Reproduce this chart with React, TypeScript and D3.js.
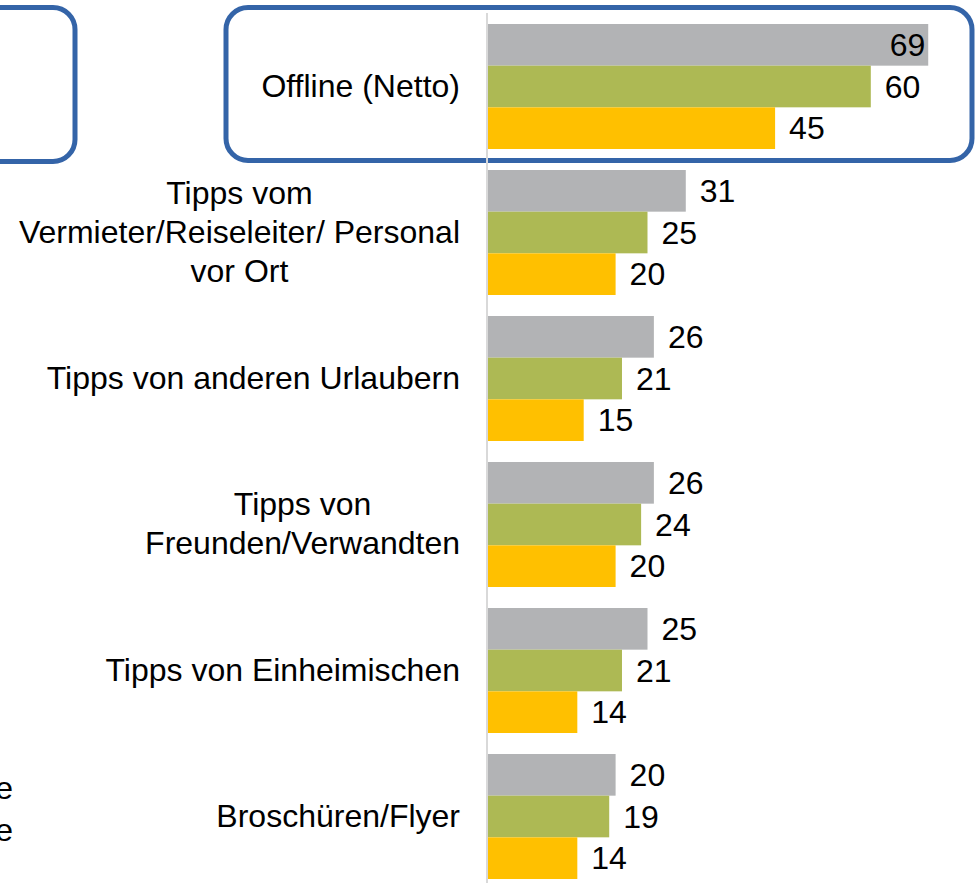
import React, { useEffect, useRef } from "react";
import * as d3 from "d3";

const categories = [
  "Offline (Netto)",
  "Tipps vom\nVermieter/Reiseleiter/ Personal\nvor Ort",
  "Tipps von anderen Urlaubern",
  "Tipps von\nFreunden/Verwandten",
  "Tipps von Einheimischen",
  "Broschüren/Flyer",
];
const seriesNames = ["A", "B", "C"];
const seriesA = [69, 31, 26, 26, 25, 20];
const seriesB = [60, 25, 21, 24, 21, 19];
const seriesC = [45, 20, 15, 20, 14, 14];
const seriesColors = ["#b2b3b5", "#adb954", "#ffc000"];
const cutLegendTexts = ["e", "e"];

const W = 977;
const H = 883;
const FONT = "'Liberation Sans', Arial, sans-serif";
const FS = 32;

export default function App() {
  const ref = useRef<SVGSVGElement>(null);
  useEffect(() => {
    document.body.style.margin = "0";
    const svg = d3.select(ref.current);
    svg.selectAll("*").remove();
    const values = [seriesA, seriesB, seriesC];
    const x = d3.scaleLinear().domain([0, 100]).range([488, 488 + 638]);
    const p = 21 / 146;
    const y = d3
      .scaleBand<string>()
      .domain(categories)
      .range([13.5, 13.5 + 146 * categories.length])
      .paddingInner(p)
      .paddingOuter(p / 2);
    const ys = d3.scaleBand<string>().domain(seriesNames).range([0, y.bandwidth()]);

    // boxes
    svg.append("rect").attr("x", -100).attr("y", 7.5).attr("width", 175).attr("height", 154)
      .attr("rx", 22).attr("fill", "none").attr("stroke", "#3464a8").attr("stroke-width", 5);
    svg.append("rect").attr("x", 226).attr("y", 7.5).attr("width", 746).attr("height", 153)
      .attr("rx", 22).attr("fill", "none").attr("stroke", "#3464a8").attr("stroke-width", 5);

    // axis line
    svg.append("line").attr("x1", 487).attr("x2", 487).attr("y1", 13).attr("y2", H)
      .attr("stroke", "#d9d9d9").attr("stroke-width", 2);

    // bars
    categories.forEach((c, i) => {
      seriesNames.forEach((s, j) => {
        const v = values[j][i];
        const by = (y(c) as number) + (ys(s) as number);
        svg.append("rect").attr("x", x(0)).attr("y", by).attr("width", x(v) - x(0))
          .attr("height", ys.bandwidth()).attr("fill", seriesColors[j]);
        const t = svg.append("text").attr("y", by + ys.bandwidth() / 2).attr("dy", "0.35em")
          .attr("font-family", FONT).attr("font-size", FS).attr("fill", "#000").text(String(v));
        const inside = x(v) + 14 + 36 > 935;
        if (inside) t.attr("x", x(v) - 3).attr("text-anchor", "end");
        else t.attr("x", x(v) + 14).attr("text-anchor", "start");
      });
      // category labels
      const lines = c.split("\n");
      const lh = 39;
      const g = svg.append("g");
      const texts = lines.map((ln, k) =>
        g.append("text").attr("font-family", FONT).attr("font-size", FS).attr("fill", "#000")
          .attr("text-anchor", "middle").attr("dy", "0.35em")
          .attr("y", (y(c) as number) + y.bandwidth() / 2 - 1 + (k - (lines.length - 1) / 2) * lh)
          .text(ln)
      );
      const maxW = d3.max(texts, (t) => (t.node() as SVGTextElement).getComputedTextLength()) || 0;
      texts.forEach((t) => t.attr("x", 460 - maxW / 2));
    });

    // cut-off legend texts on the left edge
    cutLegendTexts.forEach((s, k) => {
      svg.append("text").attr("x", 13).attr("y", 788 + k * 42).attr("dy", "0.35em")
        .attr("text-anchor", "end").attr("font-family", FONT).attr("font-size", FS)
        .attr("fill", "#000").text(s);
    });
  }, []);
  return <svg ref={ref} width={W} height={H} style={{ display: "block", background: "#fff" }} />;
}
